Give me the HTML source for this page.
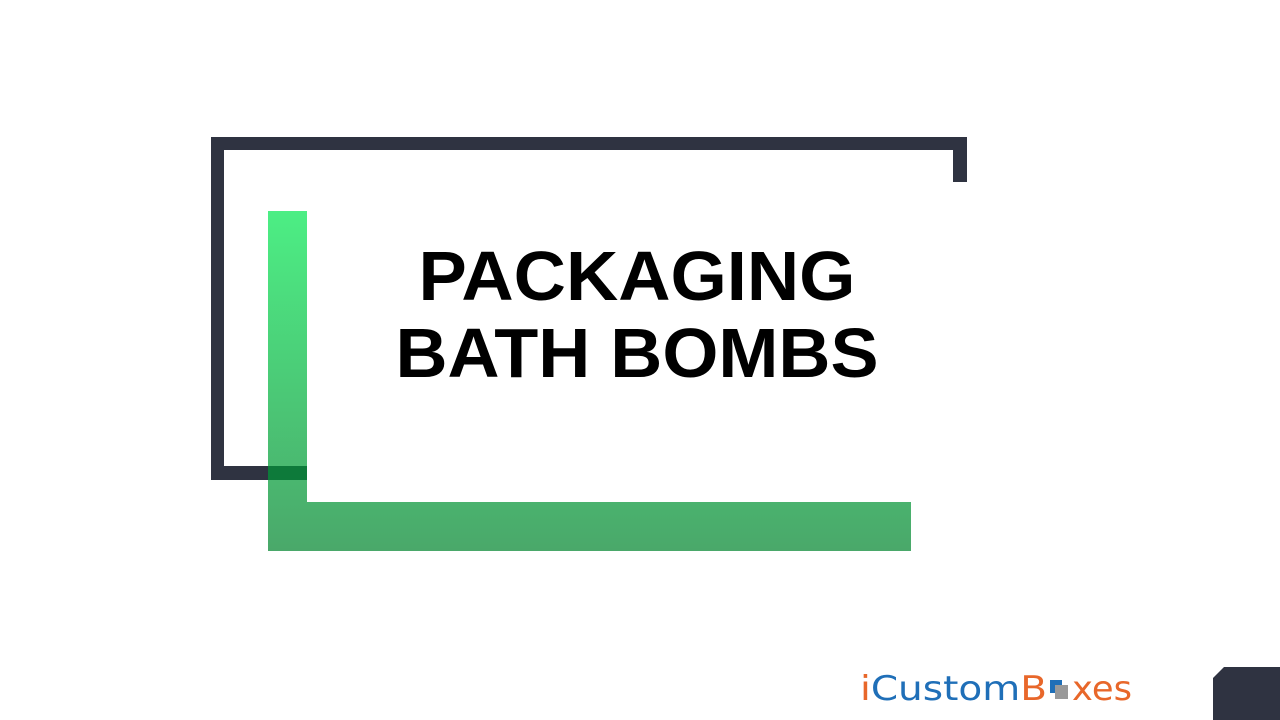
<!DOCTYPE html>
<html><head><style>
body{margin:0;width:1280px;height:720px;background:#fff;position:relative;overflow:hidden;font-family:"Liberation Sans",sans-serif}
div{position:absolute}
</style></head><body>
<div style="left:211px;top:137px;width:756px;height:13px;background:#2f3341"></div>
<div style="left:211px;top:137px;width:13px;height:343px;background:#2f3341"></div>
<div style="left:953px;top:137px;width:14px;height:45px;background:#2f3341"></div>
<div style="left:211px;top:466px;width:96px;height:14px;background:#2f3341"></div>
<svg style="position:absolute;left:0;top:0" width="1280" height="720">
<defs><linearGradient id="g" x1="0" y1="211" x2="0" y2="551" gradientUnits="userSpaceOnUse">
<stop offset="0" stop-color="#4cee84"/><stop offset="1" stop-color="#4aa86a"/></linearGradient></defs>
<path d="M268 211H307V502H911V551H268Z" fill="url(#g)"/>
<rect x="268" y="466" width="39" height="14" fill="#0d7a3a"/>
<path d="M1224 667H1280V720H1213V678Z" fill="#2f3341"/>
<text x="637" y="300" text-anchor="middle" font-family="Liberation Sans" font-weight="bold" font-size="70" textLength="437" lengthAdjust="spacingAndGlyphs">PACKAGING</text>
<text x="637" y="377" text-anchor="middle" font-family="Liberation Sans" font-weight="bold" font-size="70" textLength="483" lengthAdjust="spacingAndGlyphs">BATH BOMBS</text>
<text x="860" y="700" font-family="DejaVu Sans" font-size="34" fill="#1f6fb8" textLength="187" lengthAdjust="spacingAndGlyphs"><tspan fill="#e8672a">i</tspan>Custom<tspan fill="#e8672a">B</tspan></text>
<rect x="1050" y="680" width="12" height="13" fill="#1f6fb8"/>
<rect x="1055" y="685" width="13" height="14" fill="#999"/>
<text x="1072" y="700" font-family="DejaVu Sans" font-size="34" fill="#e8672a" textLength="60" lengthAdjust="spacingAndGlyphs">xes</text>
</svg>
</body></html>
